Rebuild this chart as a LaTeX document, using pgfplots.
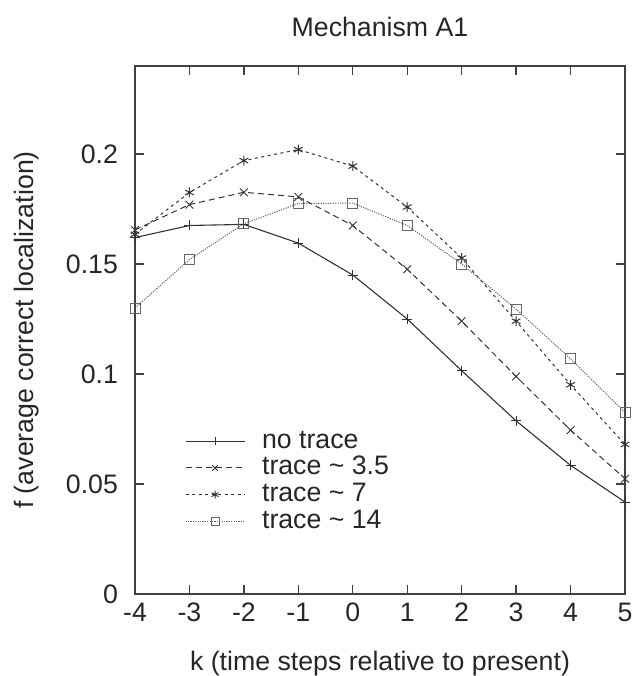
\documentclass[border=0pt]{standalone}
\usepackage{fontspec}
\setmainfont{Liberation Sans}
\usepackage{pgfplots}
\pgfplotsset{compat=1.18}
\definecolor{axgray}{gray}{0.25}
\begin{document}
\fontsize{26.7bp}{32bp}\selectfont
\begin{tikzpicture}
\path[use as bounding box] (-135bp,-82bp) rectangle (499bp,594bp);
\begin{axis}[
  scale only axis, width=490bp, height=528bp,
  xmin=-4, xmax=5, ymin=0, ymax=0.24,
  xtick={-4,-3,-2,-1,0,1,2,3,4,5},
  ytick={0,0.05,0.1,0.15,0.2},
  yticklabels={0,0.05,0.1,0.15,0.2},
  scaled y ticks=false,
  /pgf/number format/assume math mode=true,
  tick align=inside, major tick length=9bp,
  axis line style={axgray, line width=1.5bp},
  every tick/.style={axgray, line width=1.3bp},
  tick label style={font=\fontsize{26.7bp}{32bp}\selectfont, text=black!85},
  yticklabel style={xshift=-8bp},
  label style={font=\fontsize{26.7bp}{32bp}\selectfont, text=black!85},
  title={Mechanism A1},
  title style={at={(axis description cs:0.5,1.0625)}, anchor=center, font=\fontsize{26.7bp}{32bp}\selectfont, text=black!85},
  xlabel={k (time steps relative to present)},
  xlabel style={at={(axis description cs:0.5,-0.1326)}, anchor=center},
  ylabel={f (average correct localization)},
  ylabel style={at={(axis description cs:-0.2204,0.5)}, anchor=center},
  clip=false,
  legend image code/.code={\draw[mark repeat=2,mark phase=2,#1,mark size=4bp] plot coordinates {(0bp,0bp) (29.5bp,0bp) (59bp,0bp)};},
  legend style={at={(axis description cs:0.102,0.312)}, anchor=north west, draw=none, fill=none, inner sep=0pt, outer sep=0pt,
    font=\fontsize{26.7bp}{32bp}\selectfont, text=black!85, row sep=2.7bp,
    nodes={inner sep=0pt, text height=19bp, text depth=5bp},
    /tikz/every odd column/.append style={column sep=17bp}},
  legend cell align=left,
]
\addplot[black!80, line width=1.1bp, mark=+, mark size=5bp, mark options={solid, line width=0.9bp}]
  coordinates {(-4,0.162)(-3,0.1675)(-2,0.168)(-1,0.1595)(0,0.145)(1,0.125)(2,0.1015)(3,0.0787)(4,0.0585)(5,0.0418)};
\addlegendentry{no trace}
\addplot[black!80, line width=1.0bp, dash pattern=on 6bp off 4bp, mark=x, mark size=5.5bp, mark options={solid, line width=0.9bp}]
  coordinates {(-4,0.1655)(-3,0.177)(-2,0.1826)(-1,0.1805)(0,0.1675)(1,0.1476)(2,0.124)(3,0.0989)(4,0.0745)(5,0.0524)};
\addlegendentry{trace \textasciitilde{} 3.5}
\addplot[black!80, line width=1.0bp, dash pattern=on 3bp off 3.5bp, mark=asterisk, mark size=5bp, mark options={solid, line width=1.0bp}]
  coordinates {(-4,0.1635)(-3,0.1825)(-2,0.197)(-1,0.202)(0,0.1945)(1,0.1759)(2,0.1527)(3,0.124)(4,0.0951)(5,0.068)};
\addlegendentry{trace \textasciitilde{} 7}
\addplot[black!60, line width=1.0bp, dash pattern=on 1.2bp off 1.2bp, mark=square, mark size=5bp, mark options={solid, line width=0.9bp}]
  coordinates {(-4,0.130)(-3,0.152)(-2,0.1683)(-1,0.1775)(0,0.1777)(1,0.1675)(2,0.150)(3,0.1295)(4,0.1069)(5,0.0825)};
\addlegendentry{trace \textasciitilde{} 14}
\end{axis}
\end{tikzpicture}
\end{document}
